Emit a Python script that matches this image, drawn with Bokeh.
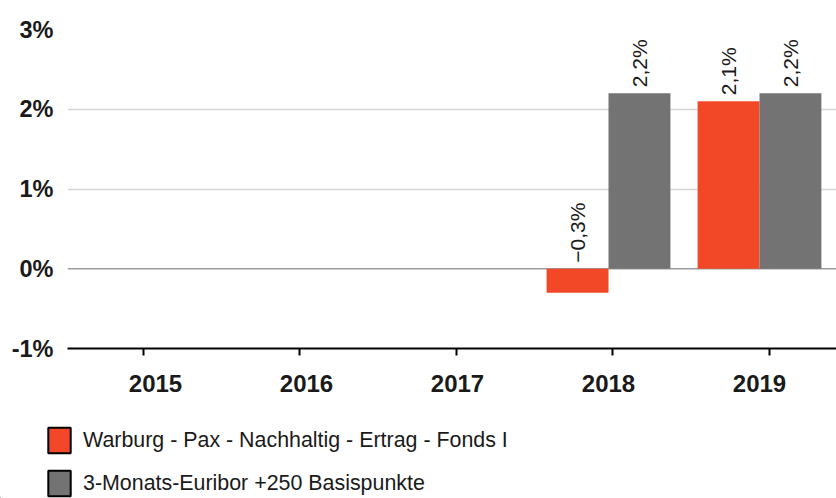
import math
from bokeh.plotting import figure
from bokeh.layouts import column
from bokeh.models import (ColumnDataSource, FixedTicker, Span, Legend, LegendItem, Range1d)
from bokeh.core.properties import value
from bokeh.embed import file_html
from bokeh.resources import INLINE

# ---- data ----
years = ["2015", "2016", "2017", "2018", "2019"]
fund_name = "Warburg - Pax - Nachhaltig - Ertrag - Fonds I"
bench_name = "3-Monats-Euribor +250 Basispunkte"
fund = [float("nan"), float("nan"), float("nan"), -0.3, 2.1]
bench = [float("nan"), float("nan"), float("nan"), 2.2, 2.2]
y_ticks = [-1, 0, 1, 2, 3]
y_tick_labels = ["-1%", "0%", "1%", "2%", "3%"]

RED = "#F24827"
GREY = "#737373"
FONT = "Liberation Sans"
TXT = "#1a1a1a"

def fmt(v):
    s = f"{abs(v):.1f}".replace(".", ",") + "%"
    return ("\u2212" + s) if v < 0 else s

idx = list(range(len(years)))
off = 0.205
bw = 0.41

W = 836
p = figure(width=W, height=410, output_backend="svg", toolbar_location=None,
           x_range=Range1d(-0.583, 4.51), y_range=Range1d(-1, 3),
           min_border_left=67, min_border_right=0, min_border_top=29, min_border_bottom=62)
p.frame_align = False
p.outline_line_color = None
p.background_fill_color = "white"
p.border_fill_color = "white"

# zero line
p.add_layout(Span(location=0, dimension="width", line_color="#9c9c9c", line_width=1.5, level="underlay"))

src_f = ColumnDataSource(dict(x=[i - off for i in idx], top=fund))
src_b = ColumnDataSource(dict(x=[i + off for i in idx], top=bench))
p.vbar(x="x", top="top", bottom=0, width=bw, source=src_f, fill_color=RED, line_color=None)
p.vbar(x="x", top="top", bottom=0, width=bw, source=src_b, fill_color=GREY, line_color=None)

# value labels
lx, ly, lt = [], [], []
for i in idx:
    for o, arr in ((-off, fund), (off, bench)):
        v = arr[i]
        if not math.isnan(v):
            lx.append(i + o)
            ly.append(max(v, 0))
            lt.append(fmt(v))
p.text(x=lx, y=ly, text=lt, angle=math.pi / 2, text_align="left", text_baseline="middle",
       y_offset=-6, text_font=value(FONT), text_font_size="21px", text_color=TXT)

# grid
p.xgrid.grid_line_color = None
p.ygrid.ticker = FixedTicker(ticks=[1, 2, 3])
p.ygrid.grid_line_color = "#d4d4d4"
p.ygrid.grid_line_width = 1.5

# axes
tick_marks = [-0.0795 + 1.0358 * i for i in idx]
p.xaxis.ticker = FixedTicker(ticks=idx, minor_ticks=tick_marks)
p.xaxis.major_label_overrides = {i: y for i, y in enumerate(years)}
p.xaxis.axis_line_color = "black"
p.xaxis.axis_line_width = 2
p.xaxis.major_tick_out = 0
p.xaxis.major_tick_in = 0
p.xaxis.minor_tick_out = 7
p.xaxis.minor_tick_in = 0
p.xaxis.minor_tick_line_color = "black"
p.xaxis.minor_tick_line_width = 2
p.xaxis.major_label_standoff = 19
p.xaxis.major_label_text_font = FONT
p.xaxis.major_label_text_font_size = "24px"
p.xaxis.major_label_text_font_style = "bold"
p.xaxis.major_label_text_color = TXT

p.yaxis.ticker = FixedTicker(ticks=y_ticks)
p.yaxis.major_label_overrides = {t: l for t, l in zip(y_ticks, y_tick_labels)}
p.yaxis.axis_line_color = None
p.yaxis.major_tick_line_color = None
p.yaxis.minor_tick_line_color = None
p.yaxis.major_tick_out = 0
p.yaxis.major_tick_in = 0
p.yaxis.major_label_standoff = 14
p.yaxis.major_label_text_font = FONT
p.yaxis.major_label_text_font_size = "23.5px"
p.yaxis.major_label_text_font_style = "bold"
p.yaxis.major_label_text_color = TXT

# ---- legend strip ----
lg = figure(width=W, height=88, output_backend="svg", toolbar_location=None,
            x_range=Range1d(0, 1), y_range=Range1d(0, 1),
            x_axis_location=None, y_axis_location=None,
            min_border_left=0, min_border_right=0, min_border_top=0, min_border_bottom=0)
lg.frame_align = False
lg.outline_line_color = None
lg.grid.grid_line_color = None
lg.background_fill_color = "white"
lg.border_fill_color = "white"
# proxies: data lies outside the visible range, only their legend swatches show
r1 = lg.vbar(x=[-9], top=[-9], bottom=-10, width=0.1, fill_color=RED, line_color="black", line_width=2)
r2 = lg.vbar(x=[-9], top=[-9], bottom=-10, width=0.1, fill_color=GREY, line_color="black", line_width=2)
legend = Legend(items=[LegendItem(label=fund_name, renderers=[r1]),
                       LegendItem(label=bench_name, renderers=[r2])],
                location=(45, -1), orientation="vertical",
                glyph_width=28, glyph_height=32, spacing=11, padding=0, margin=0,
                label_standoff=10, label_text_font=FONT, label_text_font_size="21.4px",
                label_text_color=TXT, border_line_color=None, background_fill_alpha=0)
lg.add_layout(legend, "center")

layout = column(p, lg, spacing=0)
open("out.html", "w").write(file_html(layout, INLINE))
